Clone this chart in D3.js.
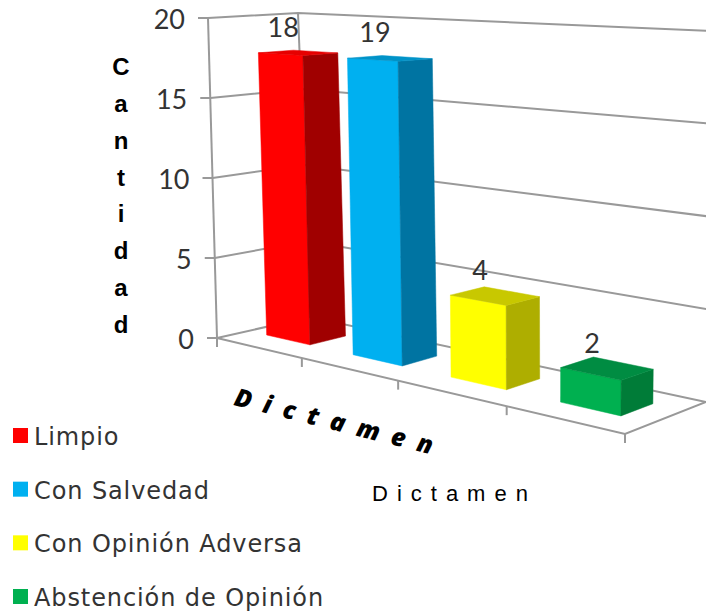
<!doctype html>
<html>
<head>
    <meta charset="utf-8">
    <script src="https://cdnjs.cloudflare.com/ajax/libs/d3/7.8.5/d3.min.js"></script>
    <style>
        html, body { margin: 0; padding: 0; background: #fff; }
        svg { display: block; }
    </style>
</head>
<body>
<svg id="chart" width="706" height="612"></svg>
<script>
    // data
    const categories = ["Limpio", "Con Salvedad", "Con Opinión Adversa", "Abstención de Opinión"];
    // the printed labels do not match the drawn heights in the source chart, so both are kept
    const dataLabels = [18, 19, 4, 2];
    const barHeights = [17.75, 17.75, 4.65, 1.85];
    const frontColors = ["#ff0000", "#00b0f0", "#ffff00", "#00b050"];
    const sideColors = ["#a00000", "#0074a2", "#aeae00", "#007c38"];
    const topColors = ["#e60000", "#0093c8", "#c8c800", "#008c42"];
    const yTicks = 4;
    const yAxisLetters = "Cantidad".split("");

    const svg = d3.select("#chart");

    // the 8 corners of the chart box on screen, [depth][category side]
    const floorCorners = [[[217, 338], [625, 434]], [[310, 317], [706, 402]]];
    const roofCorners = [[[208, 18], [628, 34]], [[298, 13], [712, 31]]];

    // category slots get wider towards the camera
    const uScale = d3.scaleLinear().domain([0, 1, 2, 3, 4]).range([0, 0.208, 0.444, 0.71, 1]);
    const hScale = d3.scaleLinear().domain([0, 20]).range([0, 1]);

    function project(cat, depth, value) {
        const u = uScale(cat), h = hScale(value);
        function level(c) {
            const near = d3.interpolate(c[0][0], c[0][1])(u);
            const far = d3.interpolate(c[1][0], c[1][1])(u);
            return d3.interpolate(near, far)(depth);
        }
        return d3.interpolate(level(floorCorners), level(roofCorners))(h);
    }

    const line = d3.line();
    const gridColor = "#999999";

    function stroke(points) {
        svg.append("path")
            .attr("d", line(points))
            .attr("fill", "none")
            .attr("stroke", gridColor)
            .attr("stroke-width", 2);
    }

    // walls
    hScale.ticks(yTicks).forEach(t => {
        stroke([project(0, 0, t), project(0, 1, t), project(4, 1, t)]);

        const p = project(0, 0, t);
        stroke([[p[0] - 10, p[1]], p]);
        svg.append("text")
            .attr("x", p[0] - 23)
            .attr("y", p[1] + 11)
            .attr("text-anchor", "end")
            .attr("class", "num")
            .text(t);
    });

    stroke([project(0, 0, 0), project(0, 0, 20)]);
    stroke([project(0, 1, 0), project(0, 1, 20)]);

    // floor
    stroke([project(0, 0, 0), project(4, 0, 0), project(4, 1, 0)]);
    d3.range(0, 5).forEach(i => {
        const p = project(i, 0, 0);
        stroke([p, [p[0], p[1] + 9]]);
    });

    // bars, far ones first
    const slotStart = 0.215, slotEnd = 0.73, depthStart = 0.34, depthEnd = 0.73;

    barHeights.forEach((v, i) => {
        const u0 = i + slotStart, u1 = i + slotEnd;
        const face = (points, color) => svg.append("path")
            .attr("d", line(points) + "Z")
            .attr("fill", color)
            .attr("stroke", color)
            .attr("stroke-width", 0.5);

        face([project(u0, depthStart, 0), project(u1, depthStart, 0),
              project(u1, depthStart, v), project(u0, depthStart, v)], frontColors[i]);
        face([project(u1, depthStart, 0), project(u1, depthEnd, 0),
              project(u1, depthEnd, v), project(u1, depthStart, v)], sideColors[i]);
        face([project(u0, depthStart, v), project(u1, depthStart, v),
              project(u1, depthEnd, v), project(u0, depthEnd, v)], topColors[i]);

        const c = project((u0 + u1) / 2, (depthStart + depthEnd) / 2, v);
        svg.append("text")
            .attr("x", c[0] - 15)
            .attr("y", c[1] - 16)
            .attr("text-anchor", "middle")
            .attr("class", "num")
            .text(dataLabels[i]);
    });

    svg.selectAll("text.num")
        .attr("font-family", "Lato")
        .attr("font-size", 27)
        .attr("fill", "#333333");

    // vertical axis title, one letter per row
    const letterY = d3.scalePoint().domain(d3.range(yAxisLetters.length)).range([75, 333]);
    svg.selectAll("text.ytitle")
        .data(yAxisLetters)
        .enter()
        .append("text")
        .attr("class", "ytitle")
        .attr("x", 121)
        .attr("y", (d, i) => letterY(i))
        .attr("text-anchor", "middle")
        .attr("font-family", "Liberation Sans")
        .attr("font-weight", "bold")
        .attr("font-size", 24)
        .text(d => d);

    // title lying along the floor
    svg.append("text")
        .attr("transform", "translate(233,405) rotate(14)")
        .attr("font-family", "Open Sans")
        .attr("font-weight", 800)
        .attr("font-style", "italic")
        .attr("font-size", 25)
        .attr("letter-spacing", 12.3)
        .text("Dictamen");

    svg.append("text")
        .attr("x", 372)
        .attr("y", 501)
        .attr("font-family", "Liberation Sans")
        .attr("font-size", 22)
        .attr("letter-spacing", 9)
        .text("Dictamen");

    // legend
    const legendY = d3.scaleLinear().domain([0, 3]).range([428, 589]);
    categories.forEach((name, i) => {
        svg.append("rect")
            .attr("x", 13)
            .attr("y", legendY(i))
            .attr("width", 15)
            .attr("height", 15)
            .attr("fill", frontColors[i]);
        svg.append("text")
            .attr("x", 34)
            .attr("y", legendY(i) + 17)
            .attr("font-family", "DejaVu Sans")
            .attr("font-size", 24)
            .attr("letter-spacing", 0.9)
            .attr("fill", "#333333")
            .text(name);
    });
</script>
</body>
</html>
